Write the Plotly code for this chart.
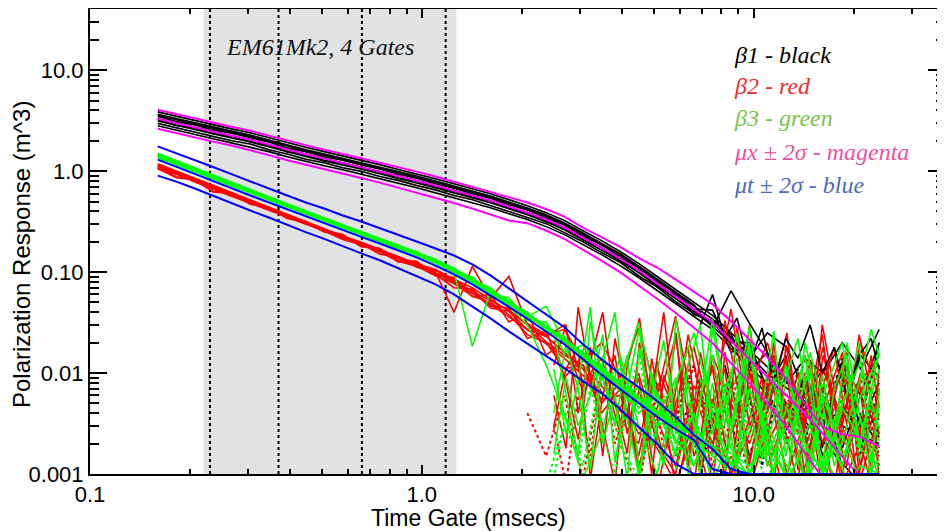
import plotly.graph_objects as go

# ---------------- data ----------------
t = [0.160, 0.182, 0.207, 0.235, 0.267, 0.304, 0.346, 0.393, 0.447, 0.508,
     0.578, 0.657, 0.747, 0.849, 0.965, 1.10, 1.25, 1.42, 1.61, 1.83,
     2.08, 2.37, 2.69, 3.06, 3.48, 3.96, 4.50, 5.12, 5.82, 6.61,
     7.52, 8.55, 9.72, 11.0, 12.6, 14.3, 16.2, 18.5, 21.0, 23.9]

# finer gate set used for the late-time noise traces
t_tail = [2.50, 2.72, 2.96, 3.22, 3.51, 3.82, 4.16, 4.53, 4.93, 5.36,
          5.84, 6.35, 6.91, 7.52, 8.19, 8.91, 9.70, 10.6, 11.5, 12.5,
          13.6, 14.8, 16.1, 17.5, 19.1, 20.8, 22.6, 23.9]

mag_mid = [3.30, 2.98, 2.72, 2.46, 2.24, 2.05, 1.83, 1.63, 1.47, 1.33,
           1.21, 1.10, 0.989, 0.893, 0.806, 0.719, 0.641, 0.573, 0.511, 0.446,
           0.389, 0.332, 0.277, 0.220, 0.175, 0.137, 0.104, 0.0773, 0.0575, 0.0428,
           0.0318, 0.0207, 0.0137, 0.00912, 0.00592, 0.00393, 0.00249, 0.00148, 0.00094, 0.0008]
mag_hi = [4.05, 3.66, 3.34, 3.01, 2.75, 2.51, 2.24, 2.00, 1.81, 1.63,
          1.49, 1.34, 1.21, 1.10, 0.989, 0.883, 0.787, 0.703, 0.627, 0.553,
          0.489, 0.421, 0.355, 0.275, 0.222, 0.178, 0.138, 0.111, 0.0847, 0.0645,
          0.0480, 0.0326, 0.0216, 0.0144, 0.00871, 0.00493, 0.00292, 0.00249, 0.00232, 0.00189]
mag_lo = [2.63, 2.37, 2.17, 1.96, 1.79, 1.61, 1.44, 1.28, 1.16, 1.05,
          0.944, 0.853, 0.769, 0.687, 0.613, 0.547, 0.483, 0.426, 0.371, 0.324,
          0.305, 0.258, 0.213, 0.167, 0.130, 0.100, 0.0745, 0.0545, 0.0395, 0.0282,
          0.0198, 0.0125, 0.0080, 0.0050, 0.0029, 0.0016, 0.0009, 0.0008, 0.0008, 0.0008]

blue_mid = [1.30, 1.108, 0.945, 0.796, 0.679, 0.573, 0.489, 0.417, 0.355, 0.306,
            0.258, 0.223, 0.192, 0.164, 0.140, 0.116, 0.0948, 0.0756, 0.0588, 0.0453,
            0.0345, 0.0259, 0.0193, 0.0137, 0.00964, 0.00693, 0.00505, 0.00367, 0.00279, 0.00217,
            0.00112, 0.001, 0.001, 0.001, 0.001, 0.001, 0.001, 0.001, 0.001, 0.001]
blue_hi = [1.76, 1.51, 1.28, 1.10, 0.934, 0.787, 0.672, 0.573, 0.489, 0.426,
           0.363, 0.317, 0.273, 0.236, 0.201, 0.171, 0.146, 0.119, 0.0927, 0.0690,
           0.0513, 0.0382, 0.0284, 0.0193, 0.0137, 0.00975, 0.00726, 0.00528, 0.00367, 0.00243,
           0.00177, 0.00112, 0.001, 0.001, 0.001, 0.001, 0.001, 0.001, 0.001, 0.001]
blue_lo = [0.902, 0.787, 0.672, 0.566, 0.483, 0.407, 0.347, 0.292, 0.249, 0.213,
           0.179, 0.153, 0.131, 0.109, 0.0908, 0.0756, 0.0602, 0.0458, 0.0348, 0.0259,
           0.0197, 0.0147, 0.0112, 0.00832, 0.00632, 0.00440, 0.00292, 0.00198, 0.00126, 0.001,
           0.001, 0.001, 0.001, 0.001, 0.001, 0.001, 0.001, 0.001, 0.001, 0.001]

black_1 = [3.86, 3.49, 3.18, 2.88, 2.62, 2.40, 2.14, 1.91, 1.72, 1.56, 1.42, 1.29, 1.16, 1.04, 0.943, 0.841, 0.750, 0.670, 0.598, 0.522,
           0.455, 0.388, 0.324, 0.257, 0.205, 0.160, 0.122, 0.0904, 0.0673, 0.0500, 0.0372, 0.0250, 0.0170, 0.0115, 0.0080, 0.0056, 0.0040, 0.0030, 0.0024, 0.0020]
black_2 = [3.66, 3.31, 3.02, 2.73, 2.49, 2.28, 2.03, 1.81, 1.63, 1.48, 1.34, 1.22, 1.10, 0.991, 0.895, 0.798, 0.712, 0.636, 0.567, 0.495,
           0.432, 0.369, 0.307, 0.244, 0.194, 0.152, 0.115, 0.0858, 0.0638, 0.0475, 0.0280, 0.0650, 0.0310, 0.0160, 0.0045, 0.0090, 0.0028, 0.0130, 0.0060, 0.0200]
black_3 = [3.47, 3.10, 2.87, 2.56, 2.37, 2.13, 1.94, 1.70, 1.56, 1.39, 1.28, 1.15, 1.05, 0.932, 0.852, 0.750, 0.678, 0.598, 0.540, 0.465,
           0.412, 0.346, 0.293, 0.228, 0.186, 0.142, 0.110, 0.0800, 0.0620, 0.0430, 0.0420, 0.0160, 0.0190, 0.0070, 0.0120, 0.0035, 0.0075, 0.0018, 0.0060, 0.0025]
black_4 = [3.30, 2.98, 2.72, 2.46, 2.24, 2.05, 1.83, 1.63, 1.47, 1.33, 1.21, 1.10, 0.989, 0.893, 0.806, 0.719, 0.641, 0.573, 0.511, 0.446,
           0.389, 0.332, 0.277, 0.220, 0.175, 0.137, 0.104, 0.0773, 0.0575, 0.0428, 0.0300, 0.0240, 0.0105, 0.0160, 0.0080, 0.0140, 0.0100, 0.0200, 0.0110, 0.0270]
black_5 = [3.14, 2.83, 2.58, 2.34, 2.13, 1.95, 1.74, 1.55, 1.40, 1.26, 1.15, 1.05, 0.940, 0.848, 0.766, 0.683, 0.609, 0.544, 0.485, 0.424,
           0.370, 0.315, 0.263, 0.209, 0.166, 0.130, 0.0988, 0.0734, 0.0546, 0.0407, 0.0290, 0.0200, 0.0200, 0.0065, 0.0028, 0.0050, 0.0015, 0.0045, 0.0030, 0.0080]
black_6 = [2.97, 2.70, 2.43, 2.23, 2.00, 1.86, 1.63, 1.48, 1.31, 1.21, 1.08, 0.995, 0.885, 0.810, 0.721, 0.652, 0.573, 0.520, 0.456, 0.405,
           0.348, 0.302, 0.247, 0.200, 0.156, 0.125, 0.0920, 0.0710, 0.0510, 0.0390, 0.0321, 0.0210, 0.0140, 0.0250, 0.0180, 0.0060, 0.0110, 0.0035, 0.0150, 0.0090]
black_7 = [2.81, 2.53, 2.31, 2.09, 1.90, 1.74, 1.56, 1.39, 1.25, 1.13, 1.03, 0.935, 0.841, 0.759, 0.685, 0.611, 0.545, 0.487, 0.434, 0.379,
           0.331, 0.282, 0.235, 0.187, 0.149, 0.116, 0.0884, 0.0657, 0.0489, 0.0364, 0.0270, 0.0176, 0.0116, 0.0078, 0.0050, 0.0033, 0.0021, 0.0013, 0.0008, 0.0006]
black_8 = [3.56, 3.22, 2.94, 2.66, 2.42, 2.21, 1.98, 1.76, 1.59, 1.44, 1.31, 1.19, 1.07, 0.964, 0.870, 0.777, 0.692, 0.619, 0.552, 0.482,
           0.420, 0.359, 0.299, 0.238, 0.189, 0.148, 0.112, 0.0835, 0.0621, 0.0462, 0.0343, 0.0224, 0.0150, 0.0098, 0.0071, 0.0052, 0.0034, 0.0041, 0.0029, 0.0035]
black_9 = [3.25, 2.84, 2.68, 2.35, 2.21, 1.95, 1.81, 1.55, 1.46, 1.27, 1.20, 1.05, 0.985, 0.850, 0.800, 0.690, 0.640, 0.550, 0.505, 0.428,
           0.383, 0.318, 0.275, 0.210, 0.176, 0.128, 0.104, 0.0720, 0.0600, 0.0380, 0.0330, 0.0190, 0.0100, 0.0060, 0.0090, 0.0025, 0.0050, 0.0012, 0.0040, 0.0018]

red_1 = [1.12, 0.96, 0.80, 0.69, 0.58, 0.495, 0.420, 0.358, 0.305, 0.262, 0.222, 0.190, 0.163, 0.139, 0.118, 0.098, 0.079, 0.062, 0.048, 0.036,
         0.027, 0.0195, 0.0140, 0.0095, 0.0065, 0.0042, 0.0030, 0.0018, 0.0008, 0.0026, 0.0006, 0.0015, 0.0007, 0.0030, 0.0005, 0.0012, 0.0060, 0.0008, 0.0020, 0.0004]
red_2 = [1.08, 0.88, 0.84, 0.63, 0.61, 0.47, 0.44, 0.345, 0.318, 0.258, 0.236, 0.180, 0.172, 0.130, 0.128, 0.092, 0.089, 0.057, 0.060, 0.032,
         0.040, 0.0150, 0.0210, 0.0065, 0.0120, 0.0025, 0.0090, 0.0007, 0.0050, 0.0180, 0.0030, 0.0006, 0.0100, 0.0040, 0.0250, 0.0009, 0.0045, 0.0160, 0.0012, 0.0070]
red_3 = [1.15, 0.99, 0.835, 0.705, 0.600, 0.505, 0.432, 0.366, 0.312, 0.266, 0.224, 0.192, 0.150, 0.142, 0.120, 0.100, 0.040, 0.114, 0.055, 0.0907,
         0.030, 0.0230, 0.0300, 0.0080, 0.0140, 0.0035, 0.0020, 0.0130, 0.0007, 0.0040, 0.0110, 0.0009, 0.0300, 0.0020, 0.0050, 0.0008, 0.0150, 0.0030, 0.0009, 0.0040]
red_4 = [1.05, 0.93, 0.78, 0.67, 0.565, 0.480, 0.408, 0.350, 0.296, 0.255, 0.210, 0.187, 0.158, 0.128, 0.114, 0.092, 0.077, 0.058, 0.050, 0.038,
         0.024, 0.0200, 0.0110, 0.0120, 0.0040, 0.0070, 0.0012, 0.0045, 0.0230, 0.0015, 0.0050, 0.0430, 0.0030, 0.0080, 0.0010, 0.0035, 0.0180, 0.0020, 0.0100, 0.0050]
red_5 = [1.10, 0.95, 0.82, 0.68, 0.585, 0.490, 0.425, 0.355, 0.300, 0.264, 0.215, 0.195, 0.162, 0.140, 0.112, 0.104, 0.080, 0.066, 0.044, 0.041,
         0.027, 0.0230, 0.0160, 0.0110, 0.0055, 0.0060, 0.0025, 0.0035, 0.0012, 0.0060, 0.0020, 0.0070, 0.0150, 0.0012, 0.0040, 0.0100, 0.0006, 0.0080, 0.0025, 0.0015]
red_6 = [1.13, 0.97, 0.81, 0.70, 0.59, 0.50, 0.428, 0.360, 0.308, 0.262, 0.220, 0.193, 0.164, 0.136, 0.119, 0.097, 0.083, 0.064, 0.052, 0.042,
         0.031, 0.024, 0.0270, 0.0130, 0.0200, 0.0090, 0.0280, 0.0060, 0.0365, 0.0040, 0.0120, 0.0025, 0.0070, 0.0200, 0.0040, 0.0009, 0.0110, 0.0030, 0.0200, 0.0060]
red_7 = [1.18, 1.00, 0.85, 0.72, 0.61, 0.515, 0.440, 0.372, 0.318, 0.270, 0.228, 0.198, 0.168, 0.144, 0.121, 0.106, 0.085, 0.070, 0.054, 0.041,
         0.030, 0.0205, 0.0150, 0.0120, 0.0075, 0.0045, 0.0100, 0.0020, 0.0010, 0.0075, 0.0035, 0.0010, 0.0025, 0.0095, 0.0030, 0.0060, 0.0020, 0.0120, 0.0005, 0.0030]
red_8 = [1.06, 0.86, 0.82, 0.62, 0.60, 0.478, 0.430, 0.340, 0.310, 0.250, 0.232, 0.178, 0.170, 0.126, 0.125, 0.095, 0.070, 0.068, 0.046, 0.044,
         0.022, 0.0260, 0.0090, 0.0150, 0.0050, 0.0080, 0.0015, 0.0110, 0.0040, 0.0008, 0.0150, 0.0050, 0.0020, 0.0070, 0.0130, 0.0020, 0.0045, 0.0010, 0.0090, 0.0120]

green_1 = [1.43, 1.22, 1.04, 0.876, 0.747, 0.630, 0.538, 0.459, 0.391, 0.337, 0.284, 0.245, 0.211, 0.180, 0.154, 0.128, 0.104, 0.083, 0.065, 0.050,
           0.038, 0.0285, 0.0212, 0.0151, 0.0106, 0.0076, 0.0056, 0.0040, 0.0031, 0.0024, 0.0019, 0.0016, 0.0012, 0.0021, 0.0009, 0.0018, 0.0011, 0.0025, 0.0008, 0.0014]
green_2 = [1.50, 1.27, 1.08, 0.905, 0.775, 0.650, 0.558, 0.474, 0.405, 0.346, 0.294, 0.253, 0.218, 0.186, 0.158, 0.133, 0.108, 0.087, 0.067, 0.052,
           0.039, 0.0295, 0.0220, 0.0158, 0.0112, 0.0080, 0.0058, 0.0042, 0.0032, 0.0025, 0.0018, 0.0013, 0.0010, 0.0008, 0.0022, 0.0009, 0.0015, 0.0007, 0.0012, 0.0010]
green_3 = [1.40, 1.20, 1.02, 0.860, 0.730, 0.620, 0.530, 0.450, 0.383, 0.330, 0.279, 0.240, 0.207, 0.176, 0.160, 0.124, 0.102, 0.0184, 0.064, 0.048,
           0.036, 0.0457, 0.0200, 0.0160, 0.0100, 0.0075, 0.0040, 0.0060, 0.0022, 0.0012, 0.0050, 0.0018, 0.0009, 0.0030, 0.0012, 0.0008, 0.0040, 0.0011, 0.0006, 0.0020]
green_4 = [1.45, 1.23, 1.06, 0.888, 0.755, 0.640, 0.545, 0.466, 0.396, 0.341, 0.288, 0.249, 0.214, 0.183, 0.156, 0.130, 0.106, 0.085, 0.066, 0.051,
           0.039, 0.028, 0.021, 0.0150, 0.0110, 0.0080, 0.0316, 0.0050, 0.0028, 0.0020, 0.0340, 0.0030, 0.0290, 0.0015, 0.0045, 0.0009, 0.0060, 0.0200, 0.0018, 0.0012]
green_5 = [1.38, 1.18, 1.00, 0.850, 0.722, 0.612, 0.522, 0.444, 0.378, 0.326, 0.275, 0.238, 0.204, 0.175, 0.149, 0.125, 0.101, 0.0805, 0.0625, 0.048,
           0.0365, 0.0275, 0.0205, 0.0145, 0.0102, 0.0073, 0.0053, 0.0039, 0.0029, 0.0021, 0.0015, 0.0011, 0.0030, 0.0013, 0.0007, 0.0025, 0.0060, 0.0015, 0.0035, 0.0009]
green_6 = [1.42, 1.22, 1.03, 0.880, 0.738, 0.632, 0.535, 0.459, 0.387, 0.338, 0.281, 0.247, 0.208, 0.184, 0.150, 0.134, 0.096, 0.090, 0.058, 0.056,
           0.033, 0.032, 0.016, 0.019, 0.0085, 0.0110, 0.0045, 0.0065, 0.0020, 0.0040, 0.0008, 0.0025, 0.0180, 0.0012, 0.0030, 0.0150, 0.0008, 0.0045, 0.0022, 0.0160]
green_7 = [1.48, 1.25, 1.07, 0.895, 0.765, 0.645, 0.552, 0.470, 0.400, 0.344, 0.291, 0.251, 0.216, 0.185, 0.157, 0.131, 0.110, 0.082, 0.070, 0.049,
           0.040, 0.026, 0.023, 0.013, 0.012, 0.0065, 0.0070, 0.0030, 0.0038, 0.0012, 0.0028, 0.0070, 0.0010, 0.0035, 0.0110, 0.0020, 0.0010, 0.0050, 0.0130, 0.0028]
green_8 = [1.35, 1.15, 0.98, 0.830, 0.708, 0.600, 0.512, 0.437, 0.372, 0.320, 0.270, 0.233, 0.200, 0.171, 0.146, 0.122, 0.099, 0.078, 0.061, 0.046,
           0.030, 0.012, 0.0040, 0.0009, 0.0025, 0.0150, 0.0030, 0.0010, 0.0080, 0.0250, 0.0040, 0.0012, 0.0070, 0.0025, 0.0009, 0.0200, 0.0030, 0.0012, 0.0060, 0.0150]

# late-time noise traces on t_tail
red_tail_1 = [0.012, 0.030, 0.004, 0.018, 0.0015, 0.022, 0.006, 0.0009, 0.014, 0.003, 0.025, 0.0012, 0.009, 0.0007, 0.016, 0.004, 0.011, 0.0018, 0.020, 0.0025,
              0.0008, 0.013, 0.0035, 0.0006, 0.010, 0.0022, 0.015, 0.0045]
red_tail_2 = [0.0060, 0.0018, 0.045, 0.009, 0.0030, 0.0008, 0.012, 0.035, 0.0040, 0.0015, 0.0070, 0.018, 0.0012, 0.0043, 0.0009, 0.028, 0.0065, 0.0015, 0.0050, 0.014,
              0.0011, 0.0060, 0.0240, 0.0030, 0.0012, 0.0085, 0.0009, 0.0120]
red_tail_3 = [0.0210, 0.0080, 0.0022, 0.0130, 0.0400, 0.0050, 0.0016, 0.0200, 0.0060, 0.0400, 0.0030, 0.0012, 0.0160, 0.0045, 0.0110, 0.0014, 0.0035, 0.0090, 0.0007, 0.0190,
              0.0048, 0.0016, 0.0300, 0.0070, 0.0160, 0.0010, 0.0045, 0.0025]
red_tail_4 = [0.0030, 0.0110, 0.0180, 0.0009, 0.0060, 0.0150, 0.0025, 0.0070, 0.0010, 0.0095, 0.0040, 0.0240, 0.0060, 0.0016, 0.0330, 0.0080, 0.0012, 0.0055, 0.0150, 0.0035,
              0.0100, 0.0009, 0.0070, 0.0180, 0.0030, 0.0240, 0.0060, 0.0009]
green_tail_1 = [0.0250, 0.0060, 0.0015, 0.0320, 0.0090, 0.0030, 0.0150, 0.0010, 0.0060, 0.0210, 0.0025, 0.0080, 0.0009, 0.0280, 0.0050, 0.0012, 0.0180, 0.0040, 0.0010, 0.0090,
                0.0220, 0.0030, 0.0012, 0.0070, 0.0150, 0.0018, 0.0060, 0.0110]
green_tail_2 = [0.0040, 0.0190, 0.0070, 0.0011, 0.0140, 0.0400, 0.0035, 0.0009, 0.0100, 0.0030, 0.0016, 0.0120, 0.0300, 0.0025, 0.0070, 0.0140, 0.0008, 0.0045, 0.0260, 0.0015,
                0.0050, 0.0110, 0.0010, 0.0035, 0.0060, 0.0200, 0.0013, 0.0050]
green_tail_3 = [0.0110, 0.0025, 0.0080, 0.0450, 0.0020, 0.0060, 0.0009, 0.0180, 0.0040, 0.0012, 0.0350, 0.0050, 0.0020, 0.0080, 0.0011, 0.0060, 0.0200, 0.0030, 0.0090, 0.0008,
                0.0040, 0.0160, 0.0055, 0.0012, 0.0030, 0.0080, 0.0270, 0.0150]
green_tail_4 = [0.0016, 0.0090, 0.0030, 0.0060, 0.0240, 0.0013, 0.0070, 0.0280, 0.0018, 0.0050, 0.0090, 0.0010, 0.0060, 0.0150, 0.0030, 0.0250, 0.0045, 0.0014, 0.0035, 0.0120,
                0.0030, 0.0009, 0.0095, 0.0025, 0.0200, 0.0040, 0.0010, 0.0070]
black_tail_1 = [0.030, 0.060, 0.022, 0.035, 0.012, 0.028, 0.008, 0.022, 0.014, 0.030, 0.010, 0.018, 0.006, 0.015, 0.022, 0.011]
black_tail_1_start = 12
black_tail_2 = [0.012, 0.004, 0.018, 0.0025, 0.009, 0.015, 0.0035, 0.011, 0.0018, 0.0070, 0.0120, 0.0030, 0.0090, 0.0200]
black_tail_2_start = 14

# dotted (sign-flipped) late-time segments
red_dot = [0.0030, 0.0008, 0.0060, 0.0015, 0.0110, 0.0020, 0.0045, 0.0009, 0.0070, 0.0018, 0.0035, 0.0120, 0.0010, 0.0055, 0.0020, 0.0085, 0.0014, 0.0040, 0.0009, 0.0065,
           0.0025, 0.0150, 0.0012, 0.0050, 0.0018, 0.0080, 0.0030, 0.0012]
green_dot = [0.0009, 0.0040, 0.0013, 0.0075, 0.0025, 0.0010, 0.0050, 0.0160, 0.0020, 0.0060, 0.0011, 0.0035, 0.0090, 0.0015, 0.0045, 0.0010, 0.0070, 0.0022, 0.0120, 0.0016,
             0.0040, 0.0008, 0.0060, 0.0030, 0.0100, 0.0014, 0.0050, 0.0020]
red_dot_2 = [0.004, 0.0015, 0.006, 0.0009, 0.010, 0.002, 0.0007, 0.008, 0.003, 0.012,
             0.0012, 0.005, 0.0009, 0.007, 0.002, 0.015, 0.001, 0.004, 0.009, 0.0015]
red_dot_2_start = 20
green_dot_2 = [0.0008, 0.003, 0.0012, 0.010, 0.002, 0.0009, 0.006, 0.0015, 0.004, 0.0010,
               0.011, 0.0025, 0.0008, 0.005, 0.0015, 0.008, 0.0012, 0.0035, 0.0180]
green_dot_2_start = 21
black_dot = [0.0015, 0.0050, 0.0010, 0.0035, 0.0080, 0.0018, 0.0060, 0.0012, 0.0045, 0.0025, 0.0110, 0.0016, 0.0070, 0.0030, 0.0090, 0.0014, 0.0050, 0.0022]
black_dot_start = 10
black_dot_2 = [0.0035, 0.012, 0.0025, 0.0080, 0.0015, 0.0060, 0.0020, 0.0100, 0.0030, 0.0140, 0.0018, 0.0070]
black_dot_2_start = 28

gate_edges = [0.22, 1.27]
gate_lines = [0.23, 0.37, 0.66, 1.18]

x_tickvals = [0.1, 1.0, 10.0]
x_ticktext = ["0.1", "1.0", "10.0"]
y_tickvals = [0.001, 0.01, 0.1, 1.0, 10.0]
y_ticktext = ["0.001", "0.01", "0.10", "1.0", "10.0"]

legend_items = [("β1 - black", "#000000"),
                ("β2 - red", "#ee2a2a"),
                ("β3 - green", "#7cc24a"),
                ("μx ± 2σ - magenta", "#ef4f9d"),
                ("μt ± 2σ - blue", "#4d6bbb")]

# ---------------- figure ----------------
# The page body has an 8 px margin, so the figure is drawn 8 px smaller
OFF = 8
WIN_W, WIN_H = 945, 531
W, H = WIN_W - OFF, WIN_H - OFF
# plot area in window pixel coordinates
L, R, T, B = 90, 945, 9, 474


def pxx(x):
    return (x - L) / (R - L)


def pxy(y):
    return (B - y) / (B - T)


fig = go.Figure()


def add(xs, ys, color, dash="solid", width=1.6):
    fig.add_trace(go.Scatter(x=xs, y=ys, mode="lines",
                             line=dict(color=color, width=width, dash=dash),
                             hoverinfo="skip", showlegend=False))


for s in [black_1, black_2, black_3, black_4, black_5, black_6, black_7, black_8, black_9]:
    add(t, s, "#000000")
add(t_tail[black_dot_start:], black_dot, "#000000", "dot", 2)
add(t[black_dot_2_start:], black_dot_2, "#000000", "dot", 2)
add(t_tail[black_tail_2_start:], black_tail_2, "#000000")

for s in [red_1, red_2, red_3, red_4, red_5, red_6, red_7, red_8]:
    add(t, s, "#ff0000")
for s in [red_tail_1, red_tail_2, red_tail_3, red_tail_4]:
    add(t_tail, s, "#ff0000")
add(t_tail, red_dot, "#ff0000", "dot", 2)
add(t[red_dot_2_start:], red_dot_2, "#ff0000", "dot", 2)
add(t_tail[black_tail_1_start:], black_tail_1, "#000000")

for s in [green_1, green_2, green_3, green_4, green_5, green_6, green_7, green_8]:
    add(t, s, "#00ff00")
for s in [green_tail_1, green_tail_2, green_tail_3, green_tail_4]:
    add(t_tail, s, "#00ff00")
add(t_tail, green_dot, "#00ff00", "dot", 2)
add(t[green_dot_2_start:], green_dot_2, "#00ff00", "dot", 2)

for s in [mag_hi, mag_mid, mag_lo]:
    add(t, s, "#ff00ff", width=2)
for s in [blue_hi, blue_mid, blue_lo]:
    add(t, s, "#0000ff", width=2)

# invisible trace so the right-hand tick axis is drawn
fig.add_trace(go.Scatter(x=[1.0], y=[1.0], yaxis="y2", mode="markers",
                         marker=dict(opacity=0), hoverinfo="skip", showlegend=False))

# gate shading and lines
fig.add_shape(type="rect", xref="x", yref="paper", x0=gate_edges[0], x1=gate_edges[1],
              y0=0, y1=1, fillcolor="#e1e2e4", line=dict(width=0), layer="below")
for g in gate_lines:
    fig.add_shape(type="line", xref="x", yref="paper", x0=g, x1=g, y0=0, y1=1,
                  line=dict(color="black", width=2, dash="dot"), layer="below")

xr = [-1, -1 + (R - 89.5) / 332.0]
yr = [-3, 1 + (70.3 - T) / 101.2]

tickfont = dict(family="Liberation Sans, Arial, sans-serif", size=22, color="black")

fig.update_layout(
    width=W, height=H,
    margin=dict(l=L - OFF, r=WIN_W - R, t=T - OFF, b=WIN_H - B, pad=0),
    paper_bgcolor="white", plot_bgcolor="white",
    showlegend=False,
    xaxis=dict(type="log", range=xr, tickvals=x_tickvals, ticktext=x_ticktext,
               ticks="inside", ticklen=9, tickwidth=1.5, tickcolor="black",
               minor=dict(ticks="inside", ticklen=5, tickwidth=1.5, tickcolor="black", dtick="D1", showgrid=False),
               showline=True, linewidth=2, linecolor="black", mirror="ticks",
               showgrid=False, zeroline=False, tickfont=tickfont, automargin=False),
    yaxis=dict(type="log", range=yr, tickvals=y_tickvals, ticktext=y_ticktext,
               ticks="inside", ticklen=17, tickwidth=1.5, tickcolor="black",
               minor=dict(ticks="inside", ticklen=9, tickwidth=1.5, tickcolor="black", dtick="D1", showgrid=False),
               showline=True, linewidth=2, linecolor="black", mirror=False,
               showgrid=False, zeroline=False, tickfont=tickfont, automargin=False),
    yaxis2=dict(type="log", range=yr, overlaying="y", side="right", tickvals=y_tickvals,
                ticks="inside", ticklen=17, tickwidth=1.5, tickcolor="black",
                minor=dict(ticks="inside", ticklen=9, tickwidth=1.5, tickcolor="black", dtick="D1", showgrid=False),
                showticklabels=False, showline=False, showgrid=False, zeroline=False,
                automargin=False),
)

# axis titles
fig.add_annotation(text="Polarization Response (m^3)", xref="paper", yref="paper",
                   x=pxx(21), y=pxy(255), textangle=-90, showarrow=False,
                   xanchor="center", yanchor="middle",
                   font=dict(family="Liberation Sans, Arial, sans-serif", size=24, color="black"))
fig.add_annotation(text="Time Gate (msecs)", xref="paper", yref="paper",
                   x=pxx(468), y=pxy(517.5), showarrow=False,
                   xanchor="center", yanchor="middle",
                   font=dict(family="Liberation Sans, Arial, sans-serif", size=23, color="black"))

# in-plot labels
fig.add_annotation(text="<i>EM61Mk2, 4 Gates</i>", xref="paper", yref="paper",
                   x=pxx(224), y=pxy(47), showarrow=False, xanchor="left", yanchor="middle",
                   font=dict(family="Liberation Serif, Times New Roman, serif", size=24, color="#111111"))

leg_y = [55, 86, 118, 152, 185]
for (txt, col), yy in zip(legend_items, leg_y):
    fig.add_annotation(text="<i>" + txt + "</i>", xref="paper", yref="paper",
                       x=pxx(732), y=pxy(yy), showarrow=False, xanchor="left", yanchor="middle",
                       font=dict(family="Liberation Serif, Times New Roman, serif", size=24, color=col))

fig.write_html("out.html")
